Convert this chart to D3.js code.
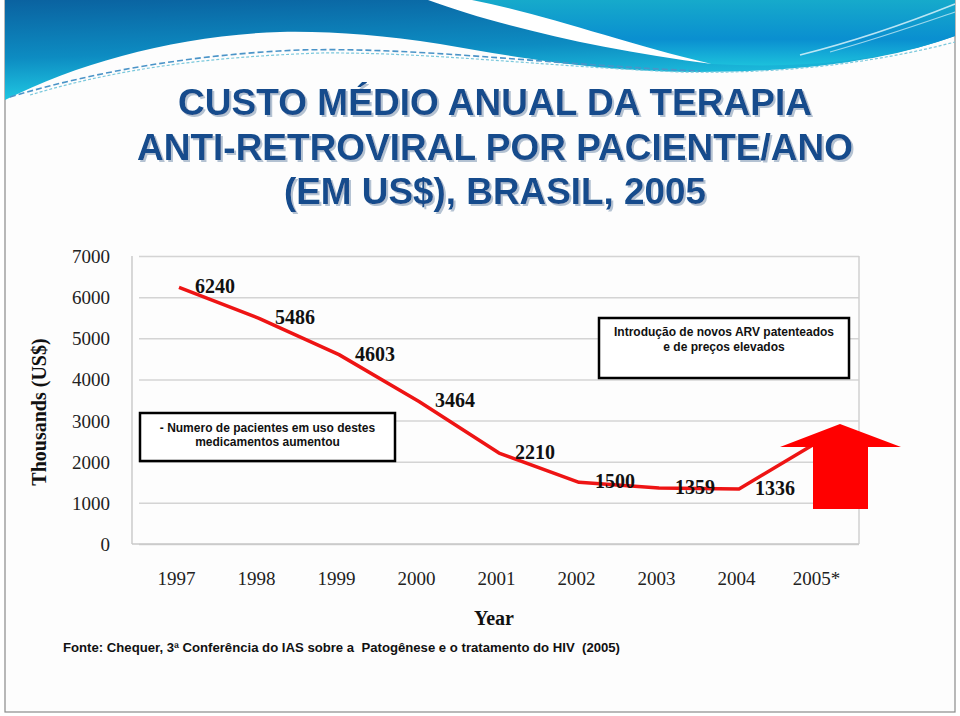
<!DOCTYPE html>
<html><head><meta charset="utf-8">
<script src="https://cdn.jsdelivr.net/npm/d3@7"></script>
<style>body{margin:0;background:#fff}svg{display:block}</style>
</head><body>
<script>
const years = ["1997","1998","1999","2000","2001","2002","2003","2004","2005*"];
const costs = [6240,5486,4603,3464,2210,1500,1359,1336,2500];
const labelCosts = [6240,5486,4603,3464,2210,1500,1359,1336,null];
const yTicks = [0,1000,2000,3000,4000,5000,6000,7000];
const titleLines = ["CUSTO MÉDIO ANUAL DA TERAPIA","ANTI-RETROVIRAL POR PACIENTE/ANO","(EM US$), BRASIL, 2005"];
const yTitle = "Thousands (US$)";
const xTitle = "Year";
const noteLeft = ["- Numero de pacientes em uso destes","medicamentos aumentou"];
const noteRight = ["Introdução de novos ARV patenteados","e de preços elevados"];
const source = "Fonte: Chequer, 3ª Conferência do IAS sobre a  Patogênese e o tratamento do HIV  (2005)";

const W=960,H=716;
const svg=d3.select("body").append("svg").attr("width",W).attr("height",H);
const defs=svg.append("defs");
const g1=defs.append("linearGradient").attr("id","g1").attr("x1",0).attr("y1",0).attr("x2",0.25).attr("y2",1);
g1.append("stop").attr("offset",0).attr("stop-color","#0a62a0");
g1.append("stop").attr("offset",0.55).attr("stop-color","#0d8cc2");
g1.append("stop").attr("offset",1).attr("stop-color","#22cfe6");
const g2=defs.append("linearGradient").attr("id","g2").attr("x1",0).attr("y1",0).attr("x2",0).attr("y2",1);
g2.append("stop").attr("offset",0).attr("stop-color","#16aacb");
g2.append("stop").attr("offset",0.6).attr("stop-color","#0a8fd0");
g2.append("stop").attr("offset",1).attr("stop-color","#1cc0dc");
const sh=defs.append("filter").attr("id","shadow").attr("x","-5%").attr("y","-20%").attr("width","110%").attr("height","150%");
sh.append("feOffset").attr("in","SourceAlpha").attr("dx",2).attr("dy",2).attr("result","off");
sh.append("feFlood").attr("flood-color","#b4c2d2").attr("result","col");
sh.append("feComposite").attr("in","col").attr("in2","off").attr("operator","in").attr("result","shd");
const mg=sh.append("feMerge");
mg.append("feMergeNode").attr("in","shd");
mg.append("feMergeNode").attr("in","SourceGraphic");

// panel
svg.append("rect").attr("x",5).attr("y",-1).attr("width",950).attr("height",713)
  .attr("fill","#fdfdfd").attr("stroke","#8a8a8a").attr("stroke-width",1.2);

// header waves
const hdr=svg.append("g");
hdr.append("path").attr("d","M5,0 H955 V36 C900,56 820,72 700,72 C600,72 520,58 440,44 C380,35 330,31 280,32 C180,35 80,62 5,100 Z").attr("fill","url(#g1)");
hdr.append("path").attr("d","M470,0 H955 V36 C900,56 820,70 712,64 C620,44 540,16 470,0 Z").attr("fill","url(#g2)");
hdr.append("path").attr("d","M428,0 C500,26 600,50 712,64 C620,42 545,14 472,0 Z").attr("fill","#ffffff");
hdr.append("path").attr("d","M800,55 C860,40 910,22 955,4").attr("fill","none").attr("stroke","#d8f2fa").attr("stroke-width",1.5).attr("opacity",0.85);
hdr.append("path").attr("d","M830,52 C880,38 920,24 955,12").attr("fill","none").attr("stroke","#d8f2fa").attr("stroke-width",1.2).attr("opacity",0.7);
hdr.append("path").attr("d","M10,97 C100,70 200,54 300,50 C420,47 540,64 700,71").attr("fill","none").attr("stroke","#4b94c8").attr("stroke-width",1.6).attr("stroke-dasharray","6 3");
hdr.append("path").attr("d","M30,95 C120,68 210,57 320,53 C430,52 540,66 680,72 C780,74 870,64 955,42").attr("fill","none").attr("stroke","#7ac8dc").attr("stroke-width",1.2).attr("stroke-dasharray","3 2");

// title
const titleY=[115,160,204], titleW=[634,716,422];
titleLines.forEach((t,i)=>{
  svg.append("text").attr("x",495).attr("y",titleY[i]).attr("text-anchor","middle")
    .attr("font-family","'Liberation Sans',Arial,sans-serif").attr("font-weight","bold").attr("font-size",37)
    .attr("textLength",titleW[i]).attr("lengthAdjust","spacingAndGlyphs").attr("fill","#124b8c")
    .attr("filter","url(#shadow)").text(t);
});

// scales
const y=d3.scaleLinear().domain([0,7000]).range([544,256]);
const x=d3.scalePoint().domain(years).range([179,819]);

// grid
const grid=svg.append("g").attr("transform","translate(139,0)")
  .call(d3.axisRight(y).tickValues(yTicks).tickSize(720).tickFormat(""));
grid.select(".domain").remove();
grid.selectAll("line").attr("stroke","#d4d4d4").attr("stroke-width",1.5);
svg.append("line").attr("x1",132).attr("x2",132).attr("y1",256).attr("y2",544).attr("stroke","#c4c4c4").attr("stroke-width",1.3);
svg.append("line").attr("x1",859).attr("x2",859).attr("y1",256).attr("y2",544).attr("stroke","#d0d0d0").attr("stroke-width",1.5);
svg.append("line").attr("x1",132).attr("x2",859).attr("y1",544).attr("y2",544).attr("stroke","#c8c8c8").attr("stroke-width",1.5);

// y axis labels
const ya=svg.append("g").attr("transform","translate(110,0)")
  .call(d3.axisLeft(y).tickValues(yTicks).tickSize(0).tickPadding(0).tickFormat(d3.format("d")));
ya.select(".domain").remove();
ya.selectAll("text").attr("font-family","'Liberation Serif','Times New Roman',serif").attr("font-size",19).attr("fill","#222").attr("dy","0.34em");

// x axis labels
const xa=svg.append("g").attr("transform","translate(0,544)")
  .call(d3.axisBottom(x).tickSize(0).tickPadding(28));
xa.select(".domain").remove();
xa.selectAll("text").attr("font-family","'Liberation Serif','Times New Roman',serif").attr("font-size",19).attr("fill","#222").attr("dx",-3);

// axis titles
svg.append("text").attr("transform","translate(46,412) rotate(-90)").attr("text-anchor","middle")
  .attr("font-family","'Liberation Serif','Times New Roman',serif").attr("font-weight","bold").attr("font-size",20).attr("fill","#111").text(yTitle);
svg.append("text").attr("x",494).attr("y",625).attr("text-anchor","middle")
  .attr("font-family","'Liberation Serif','Times New Roman',serif").attr("font-weight","bold").attr("font-size",20).attr("fill","#111").text(xTitle);

// line
const data=years.map((d,i)=>({year:d,v:costs[i],lab:labelCosts[i]}));
svg.append("path").datum(data).attr("fill","none").attr("stroke","#ee1414").attr("stroke-width",3.5).attr("stroke-linejoin","round")
  .attr("d",d3.line().x(d=>x(d.year)).y(d=>y(d.v)));

// data labels
svg.append("g").selectAll("text").data(data.filter(d=>d.lab!=null)).join("text")
  .attr("x",d=>x(d.year)+36).attr("y",d=>y(d.v)+6).attr("text-anchor","middle")
  .attr("font-family","'Liberation Serif','Times New Roman',serif").attr("font-weight","bold").attr("font-size",20).attr("fill","#111")
  .text(d=>d.lab);

// arrow
svg.append("path").attr("d","M813,509 V447 H780 L840,424 L901,447 H868 V509 Z").attr("fill","#ff0000");

// note boxes
function box(x0,y0,w,h,lines,ys,fs){
  svg.append("rect").attr("x",x0).attr("y",y0).attr("width",w).attr("height",h).attr("fill","#fff").attr("stroke","#000").attr("stroke-width",2.5);
  lines.forEach((t,i)=>svg.append("text").attr("x",x0+w/2).attr("y",ys[i]).attr("text-anchor","middle")
    .attr("font-family","'Liberation Sans',Arial,sans-serif").attr("font-weight","bold").attr("font-size",fs).attr("fill","#111").text(t));
}
box(140,413,255,48,noteLeft,[432,446],12);
box(599,318,250,60,noteRight,[336,351],12);

// source
svg.append("text").attr("x",63).attr("y",652).attr("font-family","'Liberation Sans',Arial,sans-serif").attr("font-weight","bold")
  .attr("font-size",12.5).attr("textLength",557).attr("lengthAdjust","spacingAndGlyphs").attr("fill","#111")
  .style("white-space","pre").attr("xml:space","preserve").text(source);
</script>
</body></html>
